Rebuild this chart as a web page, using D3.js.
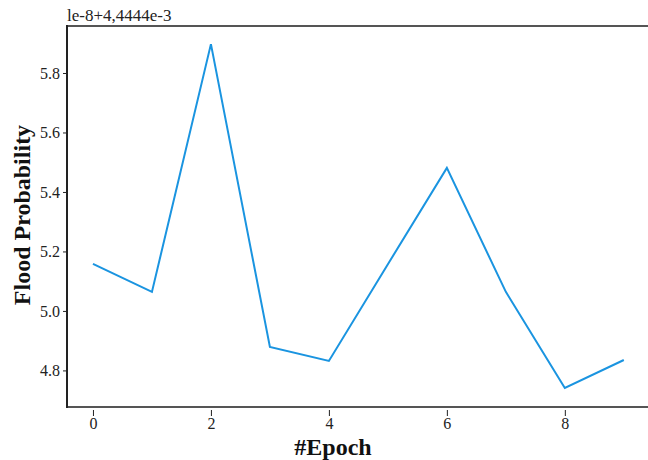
<!DOCTYPE html>
<html>
<head>
    <script src="https://d3js.org/d3.v7.min.js"></script>
    <style>
        body { margin: 0; padding: 0; background: #fff; }
        text { font-family: "Liberation Serif", "DejaVu Serif", serif; }
    </style>
</head>
<body>
<div id="chart"></div>
<script>
    // epochs and offset flood probability (x 1e-8, + 4.4444e-3)
    var epochs = [0, 1, 2, 3, 4, 5, 6, 7, 8, 9];
    var probs = [5.158, 5.064, 5.897, 4.879, 4.832, 5.157, 5.481, 5.064, 4.741, 4.835];
    var xTicks = [0, 2, 4, 6, 8];
    var yTicks = [4.8, 5.0, 5.2, 5.4, 5.6, 5.8];

    var width = 648, height = 460;
    var plotLeft = 67, plotTop = 26, plotRight = 648, plotBottom = 407;

    var svg = d3.select("#chart").append("svg")
        .attr("width", width)
        .attr("height", height);

    var x = d3.scaleLinear().domain([-0.44, 9.41]).range([plotLeft, plotRight]);
    var y = d3.scaleLinear().domain([4.677, 5.958]).range([plotBottom, plotTop]);

    // frame top
    svg.append("line")
        .attr("x1", plotLeft).attr("x2", plotRight).attr("y1", plotTop).attr("y2", plotTop)
        .attr("stroke", "#555").attr("stroke-width", 2);

    var xAxis = svg.append("g")
        .attr("transform", "translate(0," + plotBottom + ")")
        .call(d3.axisBottom(x).tickValues(xTicks).tickSize(9).tickPadding(2).tickFormat(d3.format("d")));
    xAxis.select(".domain").remove();
    xAxis.selectAll(".tick line").attr("stroke", "#222").attr("y1", 3);
    xAxis.selectAll(".tick text").style("font-size", "16px").attr("fill", "#222");

    var yAxis = svg.append("g")
        .attr("transform", "translate(" + plotLeft + ",0)")
        .call(d3.axisLeft(y).tickValues(yTicks).tickSize(4).tickPadding(3).tickFormat(d3.format(".1f")));
    yAxis.select(".domain").remove();
    yAxis.selectAll(".tick line").attr("stroke", "#222");
    yAxis.selectAll(".tick text").style("font-size", "16px").attr("fill", "#222");

    svg.append("line")
        .attr("x1", plotLeft).attr("x2", plotRight).attr("y1", plotBottom).attr("y2", plotBottom)
        .attr("stroke", "#555").attr("stroke-width", 2);
    svg.append("line")
        .attr("x1", plotLeft).attr("x2", plotLeft).attr("y1", plotTop - 1).attr("y2", plotBottom + 1)
        .attr("stroke", "#222").attr("stroke-width", 2);

    // line
    var line = d3.line()
        .x(function(d, i) { return x(epochs[i]); })
        .y(function(d) { return y(d); });

    svg.append("path")
        .datum(probs)
        .attr("d", line)
        .attr("fill", "none")
        .attr("stroke", "#1a94e0")
        .attr("stroke-width", 2);

    // labels
    svg.append("text")
        .text("le-8+4,4444e-3")
        .attr("x", 67)
        .attr("y", 21)
        .style("font-size", "17px")
        .attr("fill", "#222");

    svg.append("text")
        .text("#Epoch")
        .attr("x", 333)
        .attr("y", 455)
        .attr("text-anchor", "middle")
        .style("font-size", "24px")
        .style("font-weight", "bold")
        .attr("fill", "#111");

    svg.append("text")
        .text("Flood Probability")
        .attr("transform", "translate(30,215) rotate(-90)")
        .attr("text-anchor", "middle")
        .style("font-size", "24px")
        .style("font-weight", "bold")
        .attr("fill", "#111");
</script>
</body>
</html>
